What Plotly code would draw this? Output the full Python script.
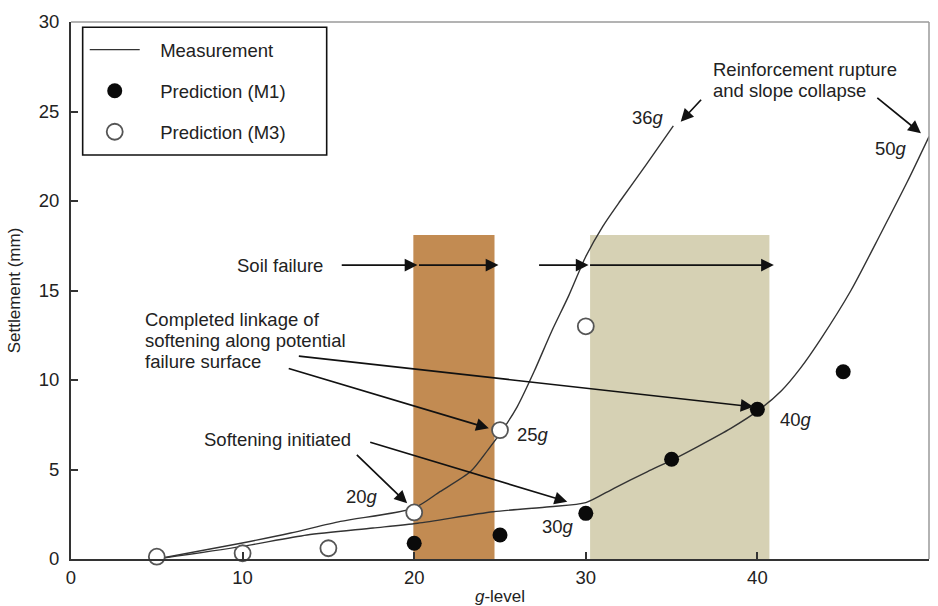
import plotly.graph_objects as go

# ---------------- data ----------------
# Measurement curve reaching collapse at 36g (steep branch)
meas_a_x = [5, 9.9, 12.8, 15.7, 20.0, 21.5, 23.3, 24.3, 25.0, 26.0, 27.0, 28.0, 29.0, 30.0, 31.0, 32.0, 33.5, 35.1]
meas_a_y = [0, 0.88, 1.45, 2.1, 2.85, 3.76, 4.9, 6.1, 7.0, 8.5, 10.5, 12.7, 14.7, 16.9, 18.6, 20.0, 22.0, 24.2]
# Measurement curve reaching collapse at 50g
meas_b_x = [5, 9.9, 13.75, 17.6, 20.2, 24.6, 27.9, 30.0, 31.64, 33.6, 35.1, 36.5, 38.45, 40.14, 41.4, 42.5, 43.7, 45.45, 47.2, 48.75, 50.0]
meas_b_y = [0, 0.69, 1.34, 1.73, 2.0, 2.64, 2.92, 3.15, 3.95, 4.88, 5.57, 6.27, 7.3, 8.36, 9.4, 10.65, 12.3, 15.0, 18.2, 21.1, 23.6]

m1_x = [20, 25, 30, 35, 40, 45]
m1_y = [0.88, 1.34, 2.55, 5.57, 8.36, 10.46]
m3_x = [5, 10, 15, 20, 25, 30]
m3_y = [0.13, 0.32, 0.6, 2.6, 7.2, 13.0]

# shaded soil-failure zones (x0, x1) and their top
zone_x0 = [19.95, 30.25]
zone_x1 = [24.68, 40.7]
zone_top = 18.1
zone_colors = ["#C28B52", "#D6D1B4"]

x_ticks = [0, 10, 20, 30, 40, 50]
y_ticks = [0, 5, 10, 15, 20, 25, 30]

# arrows: tail (x, y) -> head (x, y)
arrow_tail_x = [15.69, 20.19, 27.19, 30.16, 13.19, 12.6, 16.57, 17.35, 36.8, 46.9]
arrow_tail_y = [16.42, 16.42, 16.42, 16.42, 11.34, 10.67, 5.9, 6.55, 25.74, 25.83]
arrow_head_x = [20.19, 24.91, 30.16, 40.96, 39.77, 24.35, 19.59, 28.92, 35.53, 49.53]
arrow_head_y = [16.42, 16.42, 16.42, 16.42, 8.5, 7.3, 3.11, 3.2, 24.43, 23.78]

# text labels: text, x, y, anchor
label_text = ["Soil failure",
              "Completed linkage of", "softening along potential", "failure surface",
              "Softening initiated",
              "Reinforcement rupture", "and slope collapse",
              "36<i>g</i>", "50<i>g</i>", "40<i>g</i>", "25<i>g</i>", "20<i>g</i>", "30<i>g</i>"]
label_x = [14.82, 4.2, 4.2, 4.2, 7.62, 37.28, 37.28, 34.66, 48.85, 41.19, 25.9, 18.03, 27.32]
label_y = [16.42, 13.38, 12.23, 11.03, 6.69, 27.36, 26.16, 24.64, 22.94, 7.79, 6.93, 3.48, 1.84]
label_anchor = ["right", "left", "left", "left", "left", "left", "left",
                "right", "right", "left", "left", "right", "left"]

legend_names = ["Measurement", "Prediction (M1)", "Prediction (M3)"]

# ---------------- figure ----------------
FONT = "Liberation Sans, Arial, Helvetica, sans-serif"
INK = "#222222"
FS = 18.5
PAD = "\u00a0\u00a0\u00a0"

fig = go.Figure()
line_style = dict(color="#333333", width=1.4, shape="spline", smoothing=0.7)
fig.add_trace(go.Scatter(x=meas_a_x, y=meas_a_y, mode="lines", line=line_style,
                         name=PAD + legend_names[0], legendgroup="meas"))
fig.add_trace(go.Scatter(x=meas_b_x, y=meas_b_y, mode="lines", line=line_style,
                         name=PAD + legend_names[0], legendgroup="meas", showlegend=False))
fig.add_trace(go.Scatter(x=m1_x, y=m1_y, mode="markers", cliponaxis=False,
                         marker=dict(color="#0a0a0a", size=15),
                         name=PAD + legend_names[1], legendgroup="m1"))
fig.add_trace(go.Scatter(x=m3_x, y=m3_y, mode="markers", cliponaxis=False,
                         marker=dict(color="white", size=16, line=dict(color="#555555", width=1.8)),
                         name=PAD + legend_names[2], legendgroup="m3"))

shapes = []
for x0, x1, c in zip(zone_x0, zone_x1, zone_colors):
    shapes.append(dict(type="rect", xref="x", yref="y", x0=x0, x1=x1, y0=0, y1=zone_top,
                       fillcolor=c, line=dict(width=0), layer="below"))
# frame (top and right) in grey
shapes.append(dict(type="line", xref="paper", yref="paper", x0=0, x1=1, y0=1, y1=1,
                   line=dict(color="#9a9a9a", width=1.5)))
shapes.append(dict(type="line", xref="paper", yref="paper", x0=1, x1=1, y0=0, y1=1,
                   line=dict(color="#9a9a9a", width=1.5)))
# legend box
shapes.append(dict(type="rect", xref="paper", yref="paper", x0=0.0136, x1=0.298, y0=0.7523, y1=0.9901,
                   line=dict(color="#111111", width=1.6), layer="above"))

annotations = []
for tx, ty, hx, hy in zip(arrow_tail_x, arrow_tail_y, arrow_head_x, arrow_head_y):
    annotations.append(dict(x=hx, y=hy, ax=tx, ay=ty, xref="x", yref="y", axref="x", ayref="y",
                            text="", showarrow=True, arrowhead=2, arrowsize=1.5, arrowwidth=1.7,
                            arrowcolor="#111111", standoff=0))
for t, x, y, a in zip(label_text, label_x, label_y, label_anchor):
    annotations.append(dict(x=x, y=y, xref="x", yref="y", text=t, showarrow=False,
                            xanchor=a, yanchor="middle", font=dict(size=FS, color=INK, family=FONT)))

axis_common = dict(showline=True, linecolor="#333333", linewidth=2, showgrid=False, zeroline=False,
                   ticks="inside", ticklen=7, tickwidth=2, tickcolor="#333333",
                   tickfont=dict(size=FS, color=INK, family=FONT))

fig.update_layout(
    width=938, height=606,
    margin=dict(l=71, r=9, t=22, b=47),
    paper_bgcolor="white", plot_bgcolor="white",
    font=dict(family=FONT, size=FS, color=INK),
    shapes=shapes, annotations=annotations,
    legend=dict(x=0.016, y=0.983, xanchor="left", yanchor="top", bgcolor="rgba(0,0,0,0)",
                borderwidth=0, itemwidth=50, tracegroupgap=14,
                font=dict(size=FS, color=INK, family=FONT)),
    xaxis=dict(range=[0, 50], tickvals=x_ticks, ticklabelstandoff=1,
               title=dict(text="<i>g</i>-level", standoff=3, font=dict(size=17, color=INK, family=FONT)),
               automargin=False, **axis_common),
    yaxis=dict(range=[0, 30], tickvals=y_ticks, ticklabelstandoff=6,
               title=dict(text="Settlement (mm)", standoff=14, font=dict(size=17, color=INK, family=FONT)),
               automargin=False, **axis_common),
)

fig.write_html("out.html")
